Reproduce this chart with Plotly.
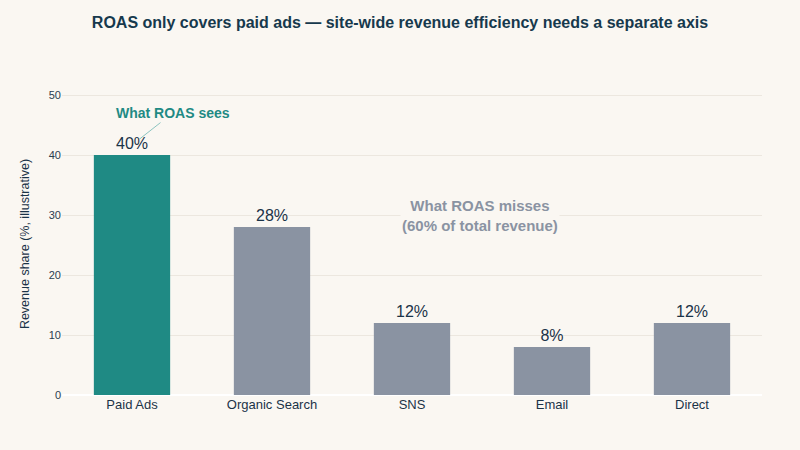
import plotly.graph_objects as go

categories = ["Paid Ads", "Organic Search", "SNS", "Email", "Direct"]
values = [40, 28, 12, 8, 12]
labels = ["40%", "28%", "12%", "8%", "12%"]
colors = ["#1f8a84", "#8a93a2", "#8a93a2", "#8a93a2", "#8a93a2"]

BG = "#faf7f2"
DARK = "#1a3348"

fig = go.Figure(go.Bar(
    x=categories, y=values, text=labels, textposition="outside",
    textfont=dict(size=16, color=DARK),
    marker=dict(color=colors, line=dict(width=0)),
    cliponaxis=False, hoverinfo="skip",
))

fig.update_layout(
    width=800, height=450,
    paper_bgcolor=BG, plot_bgcolor=BG,
    margin=dict(l=62, r=38, t=93, b=55),
    font=dict(family="Liberation Sans, Arial, sans-serif", color=DARK),
    title=dict(text="<b>ROAS only covers paid ads — site-wide revenue efficiency needs a separate axis</b>",
               x=0.5, xanchor="center", y=0.95, yanchor="middle",
               font=dict(size=16, color="#16394d")),
    bargap=0.455,
    showlegend=False,
    xaxis=dict(tickfont=dict(size=13, color=DARK), showgrid=False, ticks="", zeroline=False),
    yaxis=dict(range=[0, 50.35], tickvals=[0, 10, 20, 30, 40, 50], tickfont=dict(size=11, color="#2a3d50"),
               gridcolor="#ece7df", zeroline=True, zerolinecolor="#ffffff", zerolinewidth=2,
               title=dict(text="Revenue share (%, illustrative)", font=dict(size=12.5, color=DARK), standoff=16)),
    annotations=[
        dict(x=0.05, y=42.6, xref="x", yref="y", ax=0.29, ay=47, axref="x", ayref="y",
             text="<b>What ROAS sees</b>", showarrow=True, arrowhead=0, arrowwidth=1,
             arrowcolor="#8cc4c0", font=dict(size=14, color="#1f8a84")),
        dict(x=2.485, y=30, xref="x", yref="y",
             text="<b>What ROAS misses<br>(60% of total revenue)</b>", showarrow=False,
             font=dict(size=15, color="#8a93a2"), bgcolor=BG, align="center"),
    ],
)

fig.write_html("out.html")
